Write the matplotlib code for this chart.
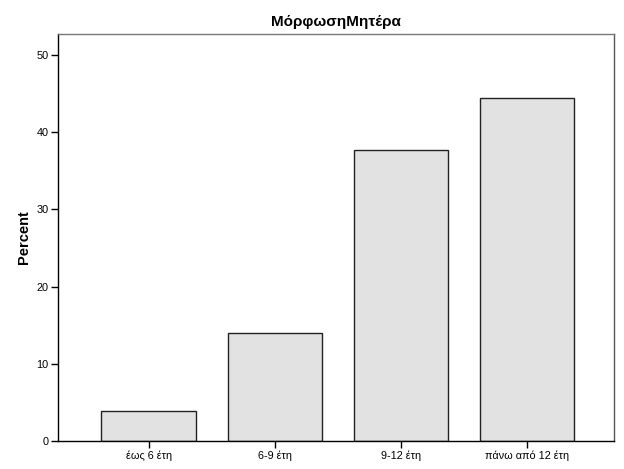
import matplotlib
matplotlib.use("Agg")
import matplotlib.pyplot as plt

plt.rcParams["font.family"] = ["Liberation Sans", "DejaVu Sans"]

categories = ["έως 6 έτη", "6-9 έτη", "9-12 έτη", "πάνω από 12 έτη"]
percent = [3.9, 14.0, 37.7, 44.4]
yticks = [0, 10, 20, 30, 40, 50]

fig = plt.figure(figsize=(6.24, 4.69), dpi=100)
ax = fig.add_axes([58 / 624, 1 - 441 / 469, 556 / 624, 407 / 469])

x = list(range(len(categories)))
ax.bar(x, percent, width=0.75, color="#e2e2e2", edgecolor="#222222", linewidth=1.0, zorder=2)

ax.set_xlim(-0.72, 3.69)
ax.set_ylim(0, 52.7)
ax.set_xticks(x)
ax.set_xticklabels(categories, fontsize=7.8)
ax.set_yticks(yticks)
ax.set_yticklabels([str(t) for t in yticks], fontsize=7.8)
ax.tick_params(direction="out", length=5, width=1, colors="#000000", pad=2)

ax.spines["left"].set_color("#000000")
ax.spines["bottom"].set_color("#000000")
ax.spines["top"].set_color("#777777")
ax.spines["right"].set_color("#555555")
for s in ax.spines.values():
    s.set_linewidth(1.0)

ax.set_ylabel("Percent", fontsize=10.5, fontweight="bold", labelpad=4)
ax.set_title("ΜόρφωσηΜητέρα", fontsize=11, fontweight="bold", pad=6)

fig.savefig("out.png", dpi=100, facecolor="white")
